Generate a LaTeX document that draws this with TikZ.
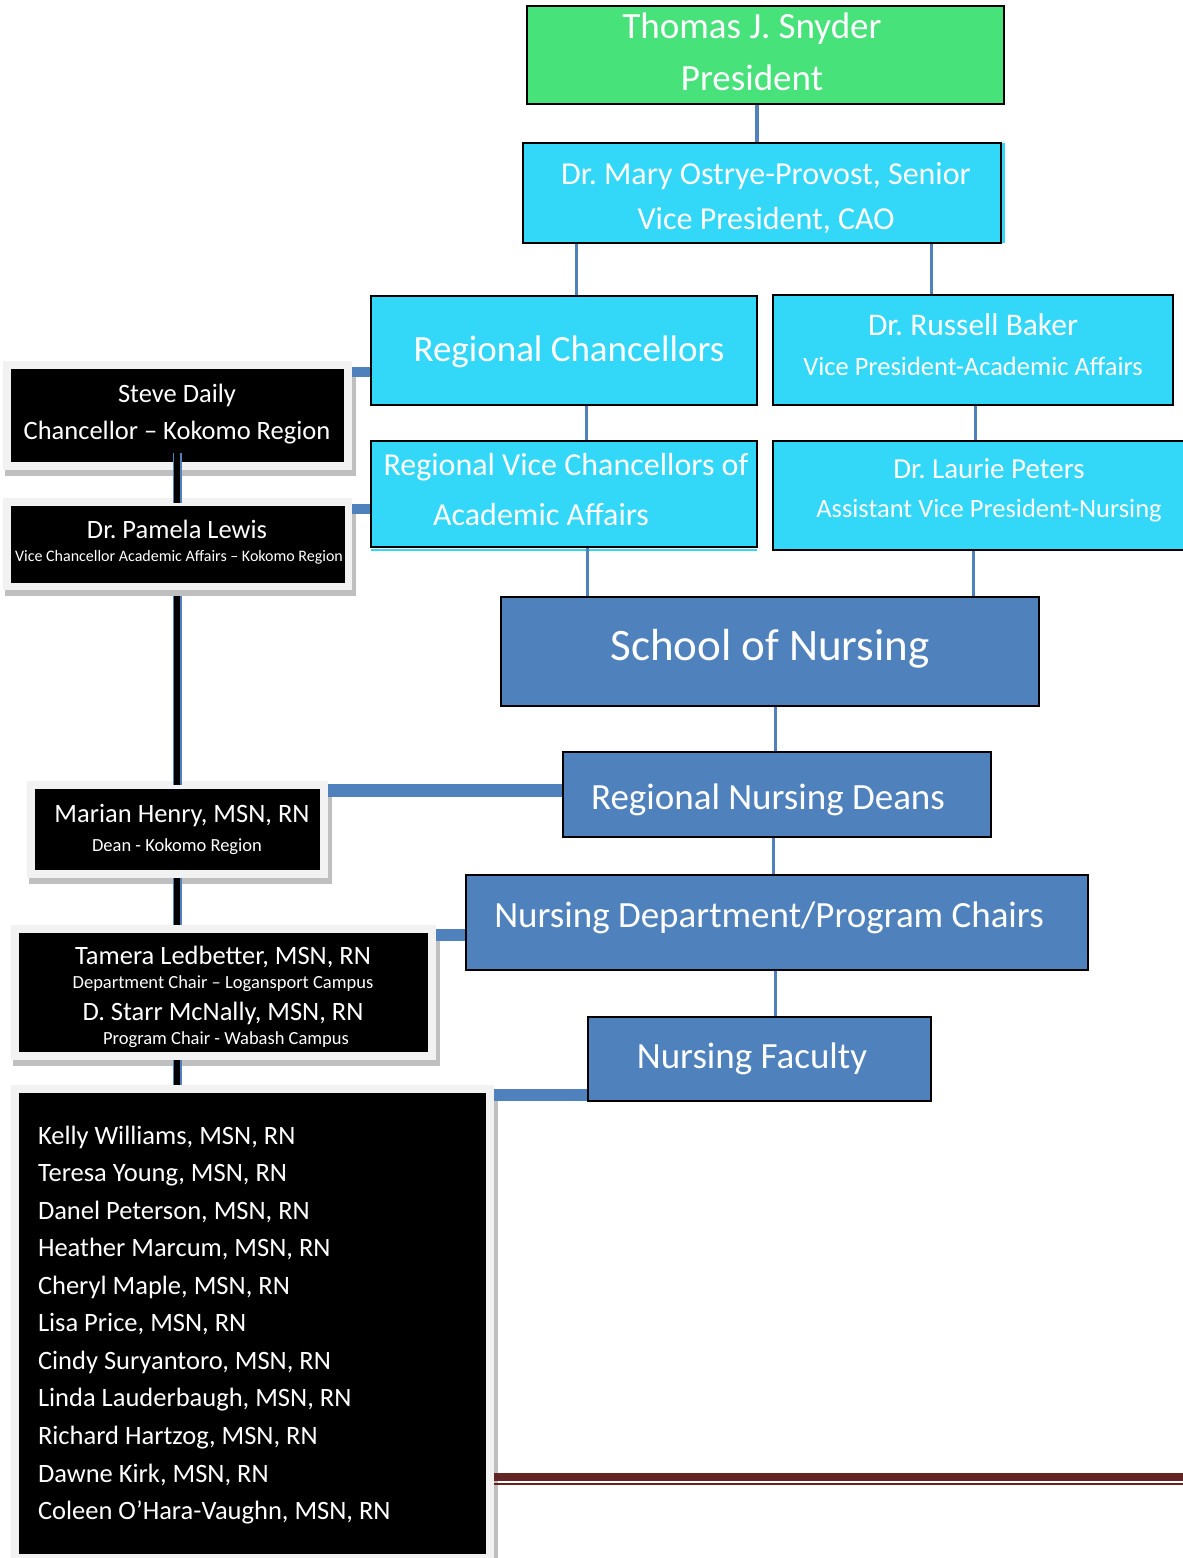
\documentclass[tikz,border=0pt]{standalone}
\usepackage{fontspec}
\setmainfont{Carlito}
\frenchspacing
\usetikzlibrary{calc}
\definecolor{pgreen}{RGB}{72,226,122}
\definecolor{pcyan}{RGB}{51,216,248}
\definecolor{pblue}{RGB}{79,129,189}
\definecolor{pframe}{RGB}{242,242,242}
\definecolor{pshadow}{RGB}{191,191,191}
\definecolor{pred}{RGB}{99,37,35}
\tikzset{
  boxbase/.style={draw=black, line width=1.6, inner sep=0},
  greenbox/.style={boxbase, fill=pgreen},
  cyanbox/.style={boxbase, fill=pcyan},
  bluebox/.style={boxbase, fill=pblue},
  framebox/.style={fill=pframe, draw=none, inner sep=0, outer sep=0},
  blackbox/.style={fill=black, draw=none, inner sep=0, outer sep=0},
  thinconn/.style={draw=pblue, line width=3},
  thickconn/.style={draw=pblue, line width=12},
  vconnedge/.style={draw=pblue, line width=9},
  vconncore/.style={draw=black, line width=6.5},
  txt/.style={text=white, inner sep=0, outer sep=0},
  redrule/.style={draw=pred},
}
% box: name, style, x1, y1, x2, y2 (pixel units, y downwards)
\newcommand\bx[6]{\node[#2, minimum width={#5-#3}, minimum height={#6-#4}] (#1) at ({(#3+#5)/2},{(#4+#6)/2}) {};}
% framed black box: name, x1, y1, x2, y2, inset
\newcommand\fbx[6]{%
  \fill[pshadow] ({#2+2},{#3+6}) rectangle ({#4+4},{#5+6});
  \node[framebox, minimum width={#4-#2}, minimum height={#5-#3}] (#1f) at ({(#2+#4)/2},{(#3+#5)/2}) {};
  \node[blackbox, minimum width={#4-#2-2*#6}, minimum height={#5-#3-2*#6}] (#1) at ({(#2+#4)/2},{(#3+#5)/2}) {};}
% text: name, x, visual y, size, anchor, text
\newcommand\tx[6]{\node[txt, anchor=#5, font=\fontsize{#4}{#4}\selectfont] (#1) at (#2,{#3+0.32*#4}) {#6};}
\begin{document}
\begin{tikzpicture}[x=1pt,y=-1pt]
\useasboundingbox (0,0) rectangle (1183,1558);
\clip (0,0) rectangle (1183,1558);
\fill[white] (0,0) rectangle (1183,1558);

% left framed boxes
\fbx{sd}{3}{361}{352}{470}{8}
\fbx{pl}{3}{498}{352}{590}{7.5}
\fbx{mh}{27}{781}{328}{878}{8}
\fbx{tl}{11}{925}{436}{1060}{8}
\fbx{fl}{11}{1085}{494}{1562}{8}

% right boxes
\bx{pres}{greenbox}{527}{6}{1004}{104}
\bx{prov}{cyanbox}{523}{143}{1001}{243}
\fill[pcyan] (1002,143) rectangle (1004.5,243);
\bx{rc}{cyanbox}{371}{296}{757}{405}
\bx{rb}{cyanbox}{773}{295}{1173}{405}
\bx{rvc}{cyanbox}{371}{441}{757}{547}
\fill[pcyan] (371,548.5) rectangle (757,551);
\bx{lp}{cyanbox}{773}{441}{1215}{550}
\bx{son}{bluebox}{501}{597}{1039}{706}
\bx{rnd}{bluebox}{563}{752}{991}{837}
\bx{ndc}{bluebox}{466}{875}{1088}{970}
\bx{nf}{bluebox}{588}{1017}{931}{1101}

% thin vertical connectors
\draw[thinconn, line width=4] (pres.south -| 757,0) -- (prov.north -| 757,0);
\draw[thinconn] (prov.south -| 576,0) -- (rc.north -| 576,0);
\draw[thinconn] (prov.south -| 931,0) -- (rb.north -| 931,0);
\draw[thinconn] (rc.south -| 586,0) -- (rvc.north -| 586,0);
\draw[thinconn] (rb.south -| 975,0) -- (lp.north -| 975,0);
\draw[thinconn] (rvc.south -| 587,0) -- (son.north -| 587,0);
\draw[thinconn] (lp.south -| 973,0) -- (son.north -| 973,0);
\draw[thinconn] (son.south -| 775,0) -- (rnd.north -| 775,0);
\draw[thinconn] (rnd.south -| 773,0) -- (ndc.north -| 773,0);
\draw[thinconn] (ndc.south -| 775,0) -- (nf.north -| 775,0);

% thick horizontal connectors to the left boxes
\draw[thickconn, line width=10] (sdf.east |- 0,372) -- (rc.west |- 0,372);
\draw[thickconn, line width=10] (plf.east |- 0,509) -- (rvc.west |- 0,509);
\draw[thickconn, line width=13] (mhf.east |- 0,790.5) -- (rnd.west |- 0,790.5);
\draw[thickconn, line width=12] (tlf.east |- 0,935) -- (ndc.west |- 0,935);
\draw[thickconn, line width=12] (flf.east |- 0,1095) -- (nf.west |- 0,1095);

% black vertical connectors on the left
\coordinate (c1a) at ($(sd.south -| 177,0)+(0,-9)$);
\coordinate (c1b) at ($(pl.north -| 177,0)+(0,-3)$);
\draw[vconnedge] (c1a) -- (c1b);
\draw[vconncore] (c1a) -- (c1b);
\coordinate (c2a) at ($(plf.south -| 177,0)+(0,6)$);
\coordinate (c2b) at ($(mhf.north -| 177,0)+(0,4)$);
\draw[vconnedge] (c2a) -- (c2b);
\draw[vconncore] (c2a) -- (c2b);
\draw[vconnedge] (mhf.south -| 177,0) -- (tlf.north -| 177,0);
\draw[vconncore] (mhf.south -| 177,0) -- (tlf.north -| 177,0);
\draw[vconnedge] (tlf.south -| 177,0) -- (flf.north -| 177,0);
\draw[vconncore] (tlf.south -| 177,0) -- (flf.north -| 177,0);

% decorative double rule
\draw[redrule, line width=8] (flf.east |- 0,1477) -- (1190,1477);
\draw[redrule, line width=2] (flf.east |- 0,1484) -- (1190,1484);

% texts, right column
\tx{t1}{752}{27}{37}{base}{Thomas J. Snyder}
\tx{t2}{752}{79}{37}{base}{President}
\tx{t3}{766}{174}{32}{base}{Dr. Mary Ostrye-Provost, Senior}
\tx{t4}{766}{219}{32}{base}{Vice President, CAO}
\tx{t5}{569}{350}{37}{base}{Regional Chancellors}
\tx{t6}{973}{325}{31.5}{base}{Dr. Russell Baker}
\tx{t7}{973}{367}{26.5}{base}{Vice President-Academic Affairs}
\tx{t8}{566}{465}{32}{base}{Regional Vice Chancellors of}
\tx{t9}{541}{515}{32}{base}{Academic Affairs}
\tx{t10}{989}{469}{29}{base}{Dr. Laurie Peters}
\tx{t11}{989}{509}{26.5}{base}{Assistant Vice President-Nursing}
\tx{t13}{770}{646}{45}{base}{School of Nursing}
\tx{t14}{768}{798}{37}{base}{Regional Nursing Deans}
\tx{t15}{769}{916}{37}{base}{Nursing Department/Program Chairs}
\tx{t16}{752}{1057}{37}{base}{Nursing Faculty}

% texts, left column
\tx{t17}{177}{394}{26.5}{base}{Steve Daily}
\tx{t18}{177}{431}{26.5}{base}{Chancellor – Kokomo Region}
\tx{t19}{177}{530}{26.5}{base}{Dr. Pamela Lewis}
\tx{t20}{179}{556}{16}{base}{Vice Chancellor Academic Affairs – Kokomo Region}
\tx{t21}{182}{814}{26.5}{base}{Marian Henry, MSN, RN}
\tx{t22}{177}{846}{18.5}{base}{Dean - Kokomo Region}
\tx{t23}{223}{956}{26.5}{base}{Tamera Ledbetter, MSN, RN}
\tx{t24}{223}{983}{18.5}{base}{Department Chair – Logansport Campus}
\tx{t25}{223}{1012}{26.5}{base}{D. Starr McNally, MSN, RN}
\tx{t26}{226}{1039}{18.5}{base}{Program Chair - Wabash Campus}

% faculty list
\tx{f1}{38}{1136}{26.5}{base west}{Kelly Williams, MSN, RN}
\tx{f2}{38}{1173.5}{26.5}{base west}{Teresa Young, MSN, RN}
\tx{f3}{38}{1211}{26.5}{base west}{Danel Peterson, MSN, RN}
\tx{f4}{38}{1248.5}{26.5}{base west}{Heather Marcum, MSN, RN}
\tx{f5}{38}{1286}{26.5}{base west}{Cheryl Maple, MSN, RN}
\tx{f6}{38}{1323.5}{26.5}{base west}{Lisa Price, MSN, RN}
\tx{f7}{38}{1361}{26.5}{base west}{Cindy Suryantoro, MSN, RN}
\tx{f8}{38}{1398.5}{26.5}{base west}{Linda Lauderbaugh, MSN, RN}
\tx{f9}{38}{1436}{26.5}{base west}{Richard Hartzog, MSN, RN}
\tx{f10}{38}{1473.5}{26.5}{base west}{Dawne Kirk, MSN, RN}
\tx{f11}{38}{1511}{26.5}{base west}{Coleen O’Hara-Vaughn, MSN, RN}
\end{tikzpicture}
\end{document}
